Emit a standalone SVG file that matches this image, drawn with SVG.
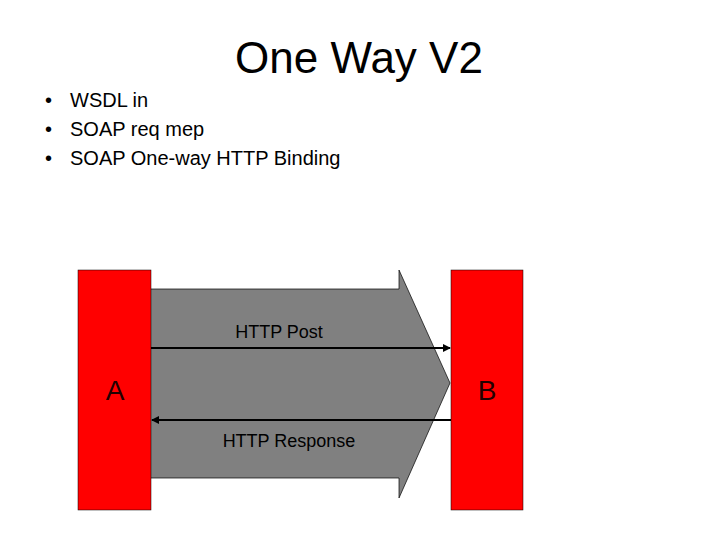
<svg xmlns="http://www.w3.org/2000/svg" width="720" height="540" viewBox="0 0 720 540">
<defs>
<style>
text{font-family:"Liberation Sans",Arial,sans-serif;fill:#000}
.box{fill:#ff0000;stroke:#000;stroke-width:0.5}
.lbl{font-size:18px;text-anchor:middle}
.big{font-size:28px;text-anchor:middle;fill:#200}
.bul{font-size:20px}
.conn{stroke:#000;stroke-width:2;fill:none}
</style>
<marker id="ah" markerWidth="8" markerHeight="8" refX="7" refY="4" orient="auto" markerUnits="userSpaceOnUse" viewBox="0 0 8 8">
<path d="M0,0 L8,4 L0,8 z" fill="#000"/>
</marker>
</defs>
<rect width="720" height="540" fill="#fff"/>
<text x="359" y="73" font-size="44" text-anchor="middle">One Way V2</text>
<g id="bullets">
<text x="45" y="107" class="bul">•</text><text x="70" y="107" class="bul">WSDL in</text>
<text x="45" y="136" class="bul">•</text><text x="70" y="136" class="bul">SOAP req mep</text>
<text x="45" y="165" class="bul">•</text><text x="70" y="165" class="bul">SOAP One-way HTTP Binding</text>
</g>
<g id="flow">
<polygon points="150,289 399,289 399,270 450,383 399,498 399,478 150,478" fill="#808080" stroke="#000" stroke-width="0.7"/>
</g>
<g id="nodeA">
<rect class="box" x="78" y="270" width="73" height="240"/>
<text class="big" x="115" y="400">A</text>
</g>
<g id="nodeB">
<rect class="box" x="451" y="270" width="72" height="240"/>
<text class="big" x="487" y="400">B</text>
</g>
<g id="connectors">
<line class="conn" x1="151" y1="348" x2="450" y2="348" marker-end="url(#ah)"/>
<line class="conn" x1="451" y1="420" x2="152" y2="420" marker-end="url(#ah)"/>
</g>
<text class="lbl" x="279" y="338">HTTP Post</text>
<text class="lbl" x="289" y="447">HTTP Response</text>
</svg>
